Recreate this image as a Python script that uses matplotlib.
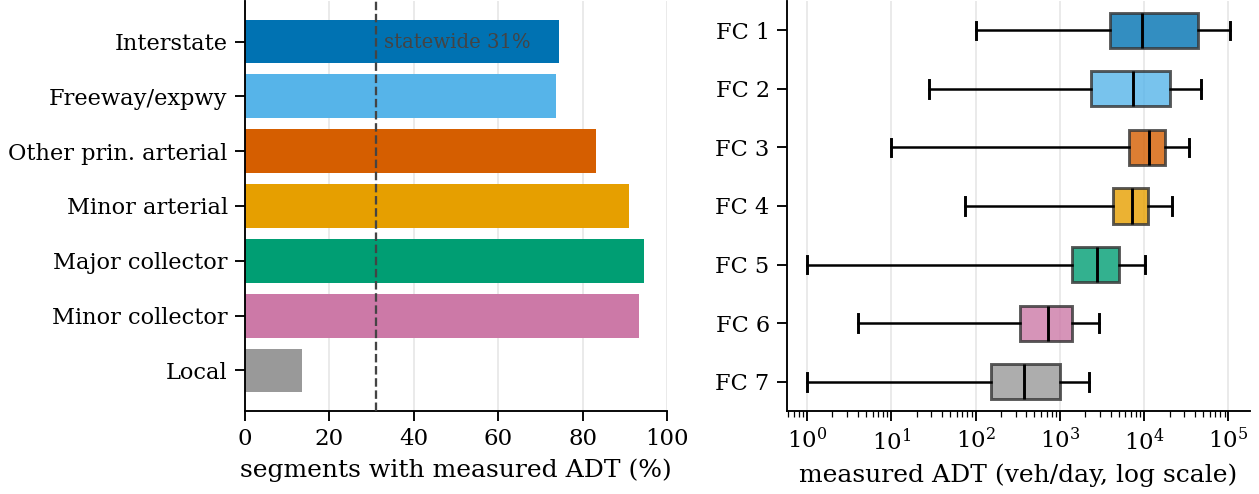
import numpy as np
import matplotlib
matplotlib.use("Agg")
import matplotlib.pyplot as plt

plt.rcParams['font.family'] = 'DejaVu Serif'
plt.rcParams['font.size'] = 11
plt.rcParams['axes.labelsize'] = 12
plt.rcParams['xtick.labelsize'] = 11
plt.rcParams['ytick.labelsize'] = 10.8
plt.rcParams['xtick.major.size'] = 4.8
plt.rcParams['ytick.major.size'] = 4.8
plt.rcParams['xtick.minor.size'] = 2.8
plt.rcParams['xtick.major.width'] = 0.9
plt.rcParams['ytick.major.width'] = 0.9
plt.rcParams['axes.linewidth'] = 0.9

# share of segments with a measured ADT, by functional class
classes = ['Interstate', 'Freeway/expwy', 'Other prin. arterial', 'Minor arterial',
           'Major collector', 'Minor collector', 'Local']
pct_measured = [74.4, 73.7, 83.2, 91.0, 94.5, 93.4, 13.5]
statewide = 31

colors = ['#0072B2', '#56B4E9', '#D55E00', '#E69F00', '#009E73', '#CC79A7', '#999999']

# measured ADT distribution per FC (whisker low, q1, median, q3, whisker high)
fc_labels = ['FC 1', 'FC 2', 'FC 3', 'FC 4', 'FC 5', 'FC 6', 'FC 7']
whislo = [100, 28, 10, 74, 1, 4, 1]
q1 = [3900, 2340, 6580, 4230, 1400, 340, 153]
med = [9400, 7300, 11400, 7200, 2740, 715, 371]
q3 = [44000, 20500, 17700, 11100, 5000, 1380, 1000]
whishi = [103000, 47000, 34400, 21300, 10200, 2920, 2230]

fig = plt.figure(figsize=(1259 / 150, 494 / 150), dpi=150)
ax1 = fig.add_axes([245 / 1259, 83 / 494, 422 / 1259, 410 / 494])
ax2 = fig.add_axes([787 / 1259, 83 / 494, 463 / 1259, 410 / 494])

# left: bar chart
y = np.arange(len(classes))
ax1.barh(y, pct_measured, height=0.8, color=colors, zorder=2)
ax1.axvline(statewide, color='#444444', linestyle='--', linewidth=1.1, zorder=3)
ax1.text(statewide + 2, 0.02, f'statewide {statewide}%', color='#444444', fontsize=9.4,
         va='center', ha='left', zorder=4)
ax1.set_yticks(y)
ax1.set_yticklabels(classes)
ax1.set_ylim(len(classes) - 0.26, -0.74)
ax1.set_xlim(0, 100)
ax1.set_xlabel('segments with measured ADT (%)')
ax1.grid(axis='x', color='#e6e6e6', linewidth=0.8, zorder=0)
ax1.set_axisbelow(True)
for s in ['top', 'right']:
    ax1.spines[s].set_visible(False)

# right: box plot on log scale
stats = []
for i in range(len(fc_labels)):
    stats.append({'whislo': whislo[i], 'q1': q1[i], 'med': med[i], 'q3': q3[i],
                  'whishi': whishi[i], 'fliers': [], 'label': fc_labels[i]})
bp = ax2.bxp(stats, positions=np.arange(1, 8), vert=False, widths=0.6,
             patch_artist=True, showfliers=False,
             boxprops=dict(edgecolor='#333333', linewidth=1.4),
             whiskerprops=dict(color='black', linewidth=1.2),
             capprops=dict(color='black', linewidth=1.4),
             medianprops=dict(color='black', linewidth=1.4))
for patch, c in zip(bp['boxes'], colors):
    patch.set_facecolor(c)
    patch.set_alpha(0.8)
ax2.set_xscale('log')
ax2.set_xlim(0.58, 1.8e5)
ax2.set_ylim(7.5, 0.5)
ax2.set_xlabel('measured ADT (veh/day, log scale)')
ax2.grid(axis='x', which='major', color='#e6e6e6', linewidth=0.8)
ax2.set_axisbelow(True)
for s in ['top', 'right']:
    ax2.spines[s].set_visible(False)

fig.savefig('out.png', dpi=150)
